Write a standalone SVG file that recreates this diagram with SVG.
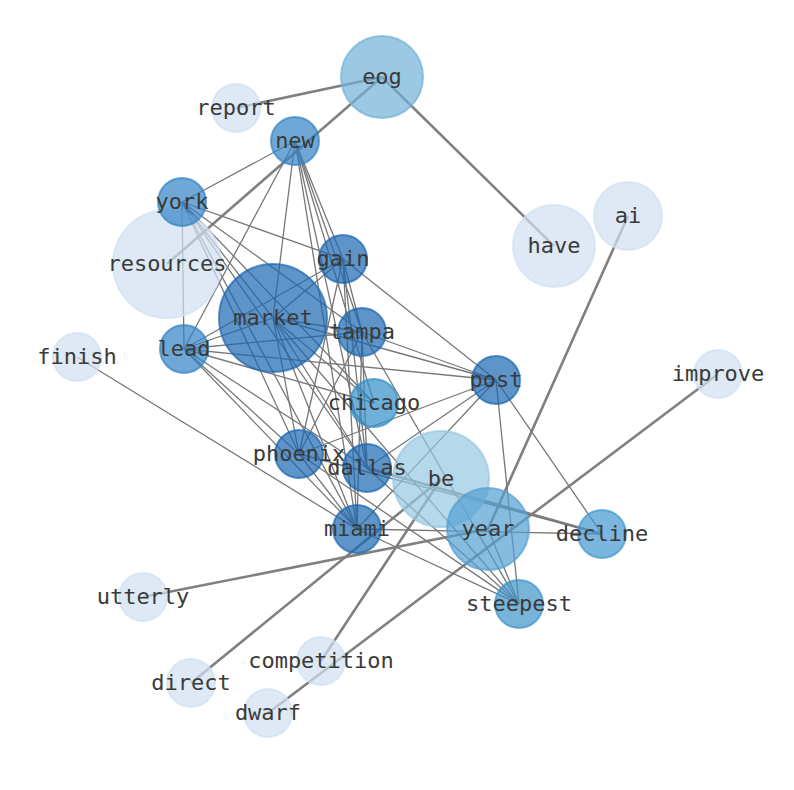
<svg xmlns="http://www.w3.org/2000/svg" width="794" height="790" viewBox="0 0 794 790">
<style>
.e{stroke:#777;stroke-width:1.3;fill:none}
.t{stroke:#808080;stroke-width:2.6;fill:none}
circle{fill-opacity:0.7;stroke-opacity:0.7;stroke-width:2}
.l{fill:#d0e0f1;stroke:#d0e0f1}
.b{fill:#95c7e1;stroke:#95c7e1}
.g{fill:#70b1d6;stroke:#70b1d6}
.y{fill:#529fd3;stroke:#529fd3}
.d{fill:#4197ce;stroke:#4197ce}
.s{fill:#3e93ca;stroke:#3e93ca}
.c{fill:#318ec7;stroke:#318ec7}
.n{fill:#3283c5;stroke:#3283c5}
.m{fill:#1a66b0;stroke:#1a66b0}
text{font-family:"DejaVu Sans Mono",monospace;font-size:22px;fill:#3a3a3a;text-anchor:middle}
</style>
<rect width="794" height="790" fill="#fff"/>
<g id="edges">
<line class="t" x1="236" y1="108" x2="382" y2="77"/>
<line class="t" x1="382" y1="77" x2="167" y2="264"/>
<line class="t" x1="382" y1="77" x2="554" y2="246"/>
<line class="t" x1="628" y1="216" x2="488" y2="529"/>
<line class="t" x1="718" y1="374" x2="268" y2="713"/>
<line class="t" x1="143" y1="597" x2="488" y2="529"/>
<line class="t" x1="191" y1="683" x2="441" y2="479"/>
<line class="t" x1="321" y1="661" x2="441" y2="479"/>
<line class="t" x1="367" y1="468" x2="602" y2="534"/>
<line class="e" x1="77" y1="357" x2="357" y2="529"/>
<line class="e" x1="295" y1="141" x2="182" y2="202"/>
<line class="e" x1="295" y1="141" x2="184" y2="349"/>
<line class="e" x1="295" y1="141" x2="273" y2="318"/>
<line class="e" x1="295" y1="141" x2="343" y2="259"/>
<line class="e" x1="295" y1="141" x2="362" y2="332"/>
<line class="e" x1="295" y1="141" x2="374" y2="403"/>
<line class="e" x1="295" y1="141" x2="367" y2="468"/>
<line class="e" x1="295" y1="141" x2="357" y2="529"/>
<line class="e" x1="182" y1="202" x2="184" y2="349"/>
<line class="e" x1="182" y1="202" x2="343" y2="259"/>
<line class="e" x1="182" y1="202" x2="362" y2="332"/>
<line class="e" x1="182" y1="202" x2="273" y2="318"/>
<line class="e" x1="182" y1="202" x2="374" y2="403"/>
<line class="e" x1="182" y1="202" x2="299" y2="454"/>
<line class="e" x1="182" y1="202" x2="367" y2="468"/>
<line class="e" x1="182" y1="202" x2="357" y2="529"/>
<line class="e" x1="343" y1="259" x2="273" y2="318"/>
<line class="e" x1="343" y1="259" x2="184" y2="349"/>
<line class="e" x1="343" y1="259" x2="362" y2="332"/>
<line class="e" x1="343" y1="259" x2="496" y2="380"/>
<line class="e" x1="343" y1="259" x2="299" y2="454"/>
<line class="e" x1="343" y1="259" x2="367" y2="468"/>
<line class="e" x1="343" y1="259" x2="357" y2="529"/>
<line class="e" x1="273" y1="318" x2="362" y2="332"/>
<line class="e" x1="273" y1="318" x2="184" y2="349"/>
<line class="e" x1="273" y1="318" x2="374" y2="403"/>
<line class="e" x1="273" y1="318" x2="299" y2="454"/>
<line class="e" x1="273" y1="318" x2="367" y2="468"/>
<line class="e" x1="273" y1="318" x2="357" y2="529"/>
<line class="e" x1="273" y1="318" x2="496" y2="380"/>
<line class="e" x1="273" y1="318" x2="519" y2="604"/>
<line class="e" x1="362" y1="332" x2="184" y2="349"/>
<line class="e" x1="362" y1="332" x2="496" y2="380"/>
<line class="e" x1="362" y1="332" x2="299" y2="454"/>
<line class="e" x1="362" y1="332" x2="367" y2="468"/>
<line class="e" x1="362" y1="332" x2="357" y2="529"/>
<line class="e" x1="362" y1="332" x2="519" y2="604"/>
<line class="e" x1="184" y1="349" x2="374" y2="403"/>
<line class="e" x1="184" y1="349" x2="299" y2="454"/>
<line class="e" x1="184" y1="349" x2="367" y2="468"/>
<line class="e" x1="184" y1="349" x2="357" y2="529"/>
<line class="e" x1="184" y1="349" x2="496" y2="380"/>
<line class="e" x1="496" y1="380" x2="299" y2="454"/>
<line class="e" x1="496" y1="380" x2="367" y2="468"/>
<line class="e" x1="496" y1="380" x2="357" y2="529"/>
<line class="e" x1="496" y1="380" x2="519" y2="604"/>
<line class="e" x1="496" y1="380" x2="602" y2="534"/>
<line class="e" x1="299" y1="454" x2="357" y2="529"/>
<line class="e" x1="299" y1="454" x2="519" y2="604"/>
<line class="e" x1="299" y1="454" x2="602" y2="534"/>
<line class="e" x1="367" y1="468" x2="519" y2="604"/>
<line class="e" x1="357" y1="529" x2="519" y2="604"/>
<line class="e" x1="357" y1="529" x2="602" y2="534"/>
<line class="e" x1="488" y1="529" x2="519" y2="604"/>
</g>
<g id="node-report"><circle class="l" cx="236" cy="108" r="24"/><text x="236" y="115">report</text></g>
<g id="node-resources"><circle class="l" cx="167" cy="264" r="54"/><text x="167" y="271">resources</text></g>
<g id="node-have"><circle class="l" cx="554" cy="246" r="41"/><text x="554" y="253">have</text></g>
<g id="node-ai"><circle class="l" cx="628" cy="216" r="34"/><text x="628" y="223">ai</text></g>
<g id="node-finish"><circle class="l" cx="77" cy="357" r="24"/><text x="77" y="364">finish</text></g>
<g id="node-improve"><circle class="l" cx="718" cy="374" r="24"/><text x="718" y="381">improve</text></g>
<g id="node-utterly"><circle class="l" cx="143" cy="597" r="24"/><text x="143" y="604">utterly</text></g>
<g id="node-competition"><circle class="l" cx="321" cy="661" r="24"/><text x="321" y="668">competition</text></g>
<g id="node-direct"><circle class="l" cx="191" cy="683" r="24"/><text x="191" y="690">direct</text></g>
<g id="node-dwarf"><circle class="l" cx="268" cy="713" r="24"/><text x="268" y="720">dwarf</text></g>
<g id="node-eog"><circle class="g" cx="382" cy="77" r="41"/><text x="382" y="84">eog</text></g>
<g id="node-be"><circle class="b" cx="441" cy="479" r="48"/><text x="441" y="486">be</text></g>
<g id="node-year"><circle class="y" cx="488" cy="529" r="41"/><text x="488" y="536">year</text></g>
<g id="node-decline"><circle class="d" cx="602" cy="534" r="24"/><text x="602" y="541">decline</text></g>
<g id="node-steepest"><circle class="s" cx="519" cy="604" r="24"/><text x="519" y="611">steepest</text></g>
<g id="node-chicago"><circle class="c" cx="374" cy="403" r="24"/><text x="374" y="410">chicago</text></g>
<g id="node-post"><circle class="m" cx="496" cy="380" r="24"/><text x="496" y="387">post</text></g>
<g id="node-market"><circle class="m" cx="273" cy="318" r="54"/><text x="273" y="325">market</text></g>
<g id="node-gain"><circle class="m" cx="343" cy="259" r="24"/><text x="343" y="266">gain</text></g>
<g id="node-tampa"><circle class="m" cx="362" cy="332" r="24"/><text x="362" y="339">tampa</text></g>
<g id="node-lead"><circle class="n" cx="184" cy="349" r="24"/><text x="184" y="356">lead</text></g>
<g id="node-york"><circle class="n" cx="182" cy="202" r="24"/><text x="182" y="209">york</text></g>
<g id="node-new"><circle class="n" cx="295" cy="141" r="24"/><text x="295" y="148">new</text></g>
<g id="node-miami"><circle class="m" cx="357" cy="529" r="24"/><text x="357" y="536">miami</text></g>
<g id="node-dallas"><circle class="m" cx="367" cy="468" r="24"/><text x="367" y="475">dallas</text></g>
<g id="node-phoenix"><circle class="m" cx="299" cy="454" r="24"/><text x="299" y="461">phoenix</text></g>
</svg>
